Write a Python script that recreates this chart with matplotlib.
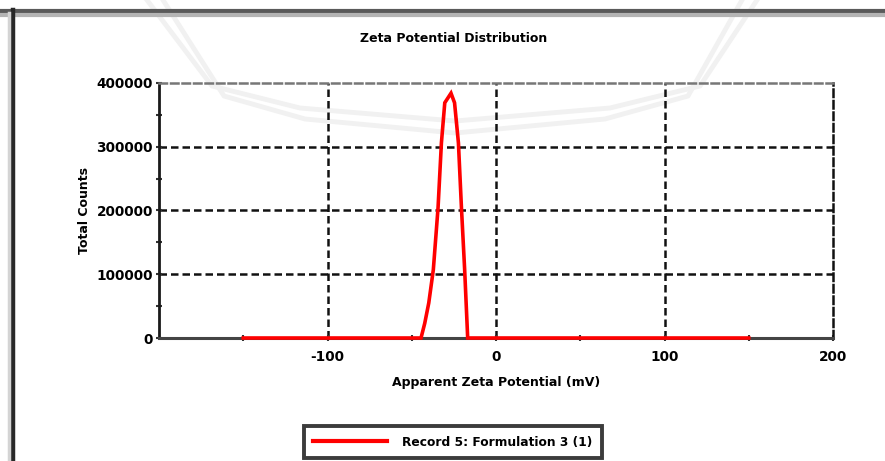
import matplotlib
matplotlib.use("Agg")
import matplotlib.pyplot as plt
from matplotlib.lines import Line2D

# Zeta potential distribution (mV vs total counts)
zeta_mv = [-150, -44.5, -42.3, -39.9, -37.2, -34.4, -32.4, -30.4, -26.7,
           -24.6, -22.3, -20.5, -18.6, -16.8, 150]
counts = [0, 0, 23000, 55000, 107000, 204000, 306000, 369000, 384000,
          369000, 306000, 204000, 107000, 0, 0]

x_ticks = [-100, 0, 100, 200]
x_tick_labels = ["-100", "0", "100", "200"]
y_ticks = [0, 100000, 200000, 300000, 400000]
y_tick_labels = ["0", "100000", "200000", "300000", "400000"]
series_label = "Record 5: Formulation 3 (1)"

FONT = "DejaVu Sans"
W, H = 885, 461
fig = plt.figure(figsize=(W / 100, H / 100), dpi=100)
fig.patch.set_facecolor("white")

# page frame on the top and left
fig.add_artist(Line2D([0, 1], [1 - 11 / H, 1 - 11 / H], transform=fig.transFigure,
                      color="#5a5a5a", lw=3))
fig.add_artist(Line2D([0, 1], [1 - 15 / H, 1 - 15 / H], transform=fig.transFigure,
                      color="#b4b4b4", lw=3))
fig.add_artist(Line2D([13 / W, 13 / W], [0, 1 - 10 / H], transform=fig.transFigure,
                      color="#282828", lw=3.2))
fig.add_artist(Line2D([9 / W, 9 / W], [0, 1 - 13 / H], transform=fig.transFigure,
                      color="#d4d4d4", lw=2.5))

# faint background logo outline
wm_outer = [(147, 0), (212, 86), (300, 108), (455, 121), (610, 108), (700, 86), (757, 0)]
wm_inner = [(163, 0), (224, 96), (305, 119), (455, 133), (605, 119), (688, 96), (742, 0)]
for pts in (wm_outer, wm_inner):
    xs = [p[0] / W for p in pts]
    ys = [1 - p[1] / H for p in pts]
    fig.add_artist(Line2D(xs, ys, transform=fig.transFigure, color="#f1f1f1",
                          lw=3.5, solid_joinstyle="round", zorder=0))

ax = fig.add_axes([159 / W, 1 - 338 / H, (833 - 159) / W, (338 - 83) / H])
ax.patch.set_alpha(0)

ax.set_xlim(-200, 200)
ax.set_ylim(0, 400000)

dash = (0, (3, 1.6))
for v in [-100, 0, 100]:
    ax.axvline(v, color="#111111", lw=1.8, linestyle=dash, zorder=1)
for v in [100000, 200000, 300000]:
    ax.axhline(v, color="#111111", lw=1.8, linestyle=dash, zorder=1)

ax.plot(zeta_mv, counts, color="#ff0000", lw=2.6, zorder=3, clip_on=False,
        solid_joinstyle="miter", label=series_label)

for side in ("top", "right"):
    ax.spines[side].set_linestyle(dash)
    ax.spines[side].set_linewidth(1.8)
ax.spines["top"].set_color("#777777")
ax.spines["right"].set_color("#111111")
ax.spines["left"].set_color("#1a1a1a")
ax.spines["left"].set_linewidth(2)
ax.spines["bottom"].set_color("#444444")
ax.spines["bottom"].set_linewidth(2.2)

ax.set_xticks(x_ticks)
ax.set_xticklabels(x_tick_labels)
ax.set_xticks([-150, -50, 50, 150], minor=True)
ax.set_yticks(y_ticks)
ax.set_yticklabels(y_tick_labels)
ax.set_yticks([50000, 150000, 250000, 350000], minor=True)
ax.tick_params(which="both", direction="inout", length=5, width=1.5, color="#333333")
ax.tick_params(axis="both", which="major", labelsize=9.8, pad=2)
for lbl in ax.get_xticklabels() + ax.get_yticklabels():
    lbl.set_fontfamily(FONT)
    lbl.set_fontweight("bold")
ax.tick_params(axis="x", which="major", pad=6)

ax.set_xlabel("Apparent Zeta Potential (mV)", fontsize=9, fontweight="bold",
              family=FONT, labelpad=9)
ax.set_ylabel("Total Counts", fontsize=9, fontweight="bold", family=FONT, labelpad=4)
fig.text(454 / W, 1 - 38 / H, "Zeta Potential Distribution", ha="center", va="center",
         fontsize=9, fontweight="bold", family=FONT)

leg = fig.legend(loc="center", bbox_to_anchor=(453 / W, 1 - 442 / H),
                 prop={"family": FONT, "weight": "bold", "size": 8.8},
                 handlelength=6.0, handletextpad=1.3, borderpad=0.75,
                 borderaxespad=0, fancybox=False, framealpha=1)
leg.get_frame().set_edgecolor("#3c3c3c")
leg.get_frame().set_linewidth(2.8)
for h in leg.legend_handles:
    h.set_linewidth(3)

fig.savefig("out.png", dpi=100, facecolor="white")
